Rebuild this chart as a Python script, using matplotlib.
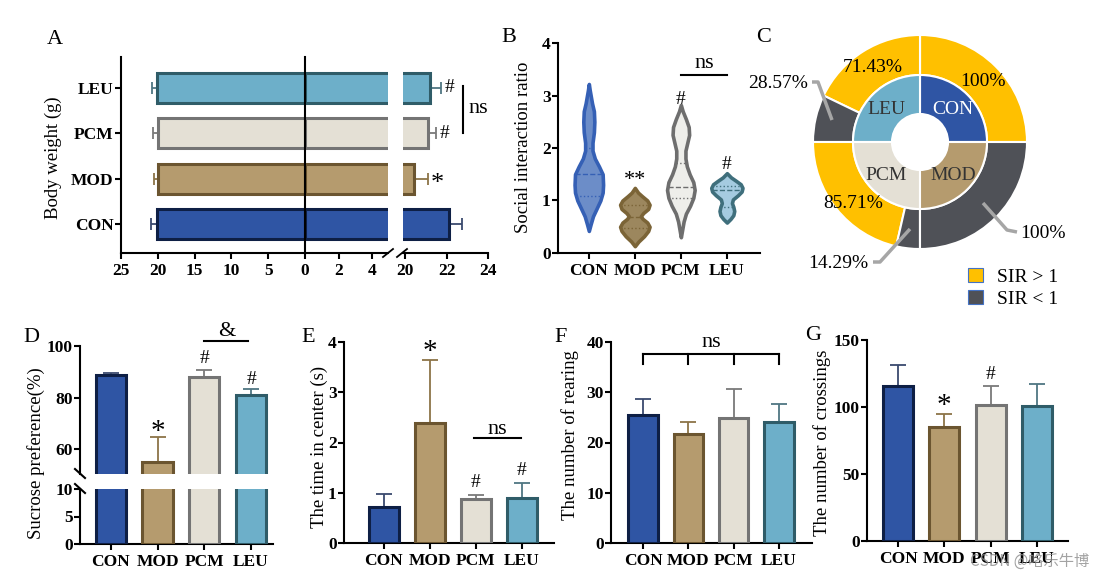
import numpy as np
import matplotlib
matplotlib.use("Agg")
import matplotlib.pyplot as plt
from matplotlib.lines import Line2D
from matplotlib.patches import Patch

plt.rcParams['font.family'] = ['Liberation Serif', 'DejaVu Serif']
plt.rcParams['axes.linewidth'] = 1.5
plt.rcParams['xtick.major.width'] = 1.5
plt.rcParams['ytick.major.width'] = 1.5
plt.rcParams['xtick.major.size'] = 4.5
plt.rcParams['ytick.major.size'] = 4
plt.rcParams['ytick.major.pad'] = 1.2
plt.rcParams['xtick.major.pad'] = 3

# groups and colours
groups = ["CON", "MOD", "PCM", "LEU"]
face = ["#2F55A4", "#B59B6E", "#E4E0D5", "#6DAFC9"]
edge = ["#0E1F45", "#6B5530", "#747474", "#2F5C68"]
errc = ["#3A4A6E", "#8C7448", "#7A7A7A", "#4F7682"]

# A: body weight (left = before, right = after)
weight_before = [20.1, 20.0, 20.0, 20.1]
weight_before_err = [0.85, 0.55, 0.65, 0.7]
weight_after = [22.1, 20.45, 21.1, 21.2]
weight_after_err = [0.65, 0.65, 0.4, 0.55]

# B: social interaction ratio violins (y levels and half widths)
violin_y = [
    [0.42, 0.55, 0.7, 0.85, 1.0, 1.15, 1.3, 1.5, 1.65, 1.8, 1.95, 2.1, 2.3, 2.5, 2.7, 2.85, 3.0, 3.1, 3.22],
    [0.13, 0.22, 0.32, 0.42, 0.5, 0.58, 0.65, 0.7, 0.76, 0.84, 0.92, 1.0, 1.08, 1.15, 1.24],
    [0.3, 0.45, 0.6, 0.75, 0.9, 1.05, 1.2, 1.35, 1.5, 1.65, 1.8, 1.95, 2.1, 2.25, 2.4, 2.55, 2.7, 2.82],
    [0.58, 0.65, 0.72, 0.8, 0.88, 0.95, 1.02, 1.1, 1.17, 1.24, 1.31, 1.38, 1.44, 1.52],
]
violin_w = [
    [0.0, 0.04, 0.09, 0.17, 0.25, 0.30, 0.31, 0.30, 0.22, 0.13, 0.08, 0.08, 0.11, 0.12, 0.11, 0.07, 0.04, 0.02, 0.0],
    [0.0, 0.08, 0.2, 0.29, 0.32, 0.27, 0.17, 0.13, 0.18, 0.29, 0.32, 0.27, 0.16, 0.07, 0.0],
    [0.0, 0.03, 0.06, 0.11, 0.2, 0.27, 0.30, 0.27, 0.19, 0.13, 0.10, 0.10, 0.14, 0.18, 0.17, 0.11, 0.04, 0.0],
    [0.0, 0.08, 0.14, 0.16, 0.14, 0.11, 0.13, 0.24, 0.32, 0.34, 0.30, 0.19, 0.09, 0.0],
]
violin_q = [[1.08, 2.0], [0.48, 0.92], [1.05, 1.72], [0.87, 1.28]]
violin_med = [1.5, 0.68, 1.25, 1.2]
vfill = ["#6C8DC8", "#9C875E", "#EEEEEA", "#A5CBE0"]
vedge = ["#3560B5", "#7B6437", "#6E6E6E", "#3F6F7C"]

# C: SIR proportions (%)
sir_gt = [100, 0, 85.71, 71.43]
sir_lt = [0, 100, 14.29, 28.57]

# D-G
sucrose = [88.7, 55.1, 87.8, 81.0]
sucrose_err = [1.0, 9.7, 2.9, 2.2]
center_time = [0.71, 2.38, 0.87, 0.90]
center_time_err = [0.26, 1.27, 0.09, 0.30]
rearing = [25.4, 21.6, 24.8, 24.0]
rearing_err = [3.2, 2.5, 5.8, 3.6]
crossings = [115.5, 85.0, 101.5, 100.5]
crossings_err = [16.0, 10.0, 14.0, 17.0]

W, H = 1112, 580
fig = plt.figure(figsize=(W / 100, H / 100), dpi=100)


def box(x0, y0, x1, y1):
    return fig.add_axes([x0 / W, 1 - y1 / H, (x1 - x0) / W, (y1 - y0) / H])


def fig_line(xs, ys, **kw):
    fig.add_artist(Line2D([x / W for x in xs], [1 - y / H for y in ys], **kw))


def fig_text(x, y, s, **kw):
    fig.text(x / W, 1 - y / H, s, **kw)


def bold_ticks(ax):
    for lab in ax.get_xticklabels() + ax.get_yticklabels():
        lab.set_fontweight("bold")
        lab.set_fontsize(12.5)


def clean(ax):
    ax.spines["top"].set_visible(False)
    ax.spines["right"].set_visible(False)


def bar_panel(ax, vals, errs, ylim, yticks, xlim):
    x = np.arange(len(groups))
    ax.bar(x, vals, width=0.65, color=face, edgecolor=edge, linewidth=2.2, zorder=3)
    for i in range(len(groups)):
        ax.errorbar(x[i], vals[i], yerr=[[0], [errs[i]]], fmt="none", ecolor=errc[i],
                    elinewidth=1.3, capsize=6, capthick=1.3, zorder=2)
    ax.set_xlim(*xlim)
    ax.set_ylim(*ylim)
    ax.set_yticks(yticks)
    ax.set_xticks(x)
    ax.set_xticklabels(groups)
    clean(ax)
    bold_ticks(ax)


# ---------------- A ----------------
ypos = np.arange(len(groups))
axL = box(121, 57, 305, 253)
axM = box(305, 57, 388, 253)
axR = box(403, 57, 488, 253)
for ax in (axL, axM, axR):
    ax.set_ylim(-0.64, 3.68)
    clean(ax)
axL.barh(ypos, weight_before, height=0.66, color=face, edgecolor=edge, linewidth=2.2, zorder=3)
axM.barh(ypos, weight_after, height=0.66, color=face, edgecolor=edge, linewidth=2.2, zorder=3)
axR.barh(ypos, weight_after, height=0.66, color=face, edgecolor=edge, linewidth=2.2, zorder=3)
for i in range(len(groups)):
    axL.errorbar(weight_before[i], ypos[i], xerr=[[0], [weight_before_err[i]]], fmt="none",
                 ecolor=errc[i], elinewidth=1.3, capsize=4, capthick=1.3, zorder=2)
    axR.errorbar(weight_after[i], ypos[i], xerr=[[0], [weight_after_err[i]]], fmt="none",
                 ecolor=errc[i], elinewidth=1.3, capsize=4, capthick=1.3, zorder=2)
axL.set_xlim(25, 0)
axL.set_xticks([25, 20, 15, 10, 5, 0])
axL.set_yticks(ypos)
axL.set_yticklabels(groups)
axM.set_xlim(0, 4.95)
axM.set_xticks([2, 4])
axM.set_yticks([])
axM.spines["left"].set_visible(False)
axR.set_xlim(19.9, 24)
axR.set_xticks([20, 22, 24])
axR.set_yticks([])
axR.spines["left"].set_visible(False)
for ax in (axL, axM, axR):
    bold_ticks(ax)
axM.axvline(0, color="black", lw=1.5, zorder=5, clip_on=False)
fig_line([383, 393], [257, 249], color="black", lw=1.3)
fig_line([397, 407], [257, 249], color="black", lw=1.3)
marks_A = ["", "*", "#", "#"]
for i in range(len(groups)):
    end = weight_after[i] + weight_after_err[i]
    fs = 19 if marks_A[i] == "*" else 14
    dy = -0.12 if marks_A[i] == "*" else 0
    axR.text(end + 0.15, ypos[i] + dy, marks_A[i], ha="left", va="center", fontsize=fs, clip_on=False)
axR.plot([22.8, 22.8], [2.0, 3.05], color="black", lw=1.5, clip_on=False)
axR.text(23.05, 2.55, "ns", ha="left", va="center", fontsize=16)
fig_text(53, 158, "Body weight (g)", rotation=90, ha="center", va="center", fontsize=13.5)
fig_text(55, 40, "A", ha="center", va="center", fontsize=16)

# ---------------- B ----------------
axB = box(558, 43, 760, 253)
for i in range(len(groups)):
    yy = np.array(violin_y[i])
    ww = np.array(violin_w[i])
    axB.fill_betweenx(yy, i - ww, i + ww, facecolor=vfill[i], edgecolor=vedge[i],
                      linewidth=2.6, joinstyle="round", zorder=3)
    for q in violin_q[i]:
        hw = np.interp(q, yy, ww)
        axB.plot([i - hw, i + hw], [q, q], ls=":", color=vedge[i], lw=1.0, zorder=4)
    hw = np.interp(violin_med[i], yy, ww)
    axB.plot([i - hw, i + hw], [violin_med[i]] * 2, ls="--", color=vedge[i], lw=1.0, zorder=4)
axB.set_xlim(-0.67, 3.72)
axB.set_ylim(0, 4)
axB.set_yticks([0, 1, 2, 3, 4])
axB.set_xticks(ypos)
axB.set_xticklabels(groups)
clean(axB)
bold_ticks(axB)
axB.text(1, 1.38, "**", ha="center", va="center", fontsize=16)
axB.text(2, 2.92, "#", ha="center", va="center", fontsize=14)
axB.text(3, 1.68, "#", ha="center", va="center", fontsize=14)
axB.plot([2, 3], [3.4, 3.4], color="black", lw=1.5)
axB.text(2.5, 3.6, "ns", ha="center", va="center", fontsize=16)
fig_text(523, 147, "Social interaction ratio", rotation=90, ha="center", va="center", fontsize=13.5)
fig_text(509, 38, "B", ha="center", va="center", fontsize=16)

# ---------------- C ----------------
axC = box(805, 27, 1035, 257)
order = [0, 3, 2, 1]  # CON, LEU, PCM, MOD counter-clockwise from 0 deg
yellow, dark = "#FFC000", "#4F5157"
outer_sizes, outer_cols = [], []
for i in order:
    outer_sizes += [sir_gt[i], sir_lt[i]]
    outer_cols += [yellow, dark]
axC.pie(outer_sizes, radius=1.07, startangle=0, counterclock=True, colors=outer_cols,
        wedgeprops=dict(width=0.40, edgecolor="white", linewidth=1.5))
axC.pie([sir_gt[i] + sir_lt[i] for i in order], radius=0.67, startangle=0, counterclock=True,
        colors=[face[i] for i in order], wedgeprops=dict(width=0.39, edgecolor="white", linewidth=1.5))
axC.set_xlim(-1.15, 1.15)
axC.set_ylim(-1.15, 1.15)
axC.set_aspect("equal")
axC.axis("off")
txt = "#333333"
axC.text(0.33, 0.33, "CON", color="white", ha="center", va="center", fontsize=14)
axC.text(-0.34, 0.33, "LEU", color=txt, ha="center", va="center", fontsize=14)
axC.text(-0.34, -0.34, "PCM", color=txt, ha="center", va="center", fontsize=14)
axC.text(0.33, -0.34, "MOD", color=txt, ha="center", va="center", fontsize=14)
axC.text(0.63, 0.60, f"{sir_gt[0]:g}%", ha="center", va="center", fontsize=14)
axC.text(-0.47, 0.74, f"{sir_gt[3]:g}%", ha="center", va="center", fontsize=14)
axC.text(-0.67, -0.61, f"{sir_gt[2]:g}%", ha="center", va="center", fontsize=14)
axC.text(-1.42, 0.59, f"{sir_lt[3]:g}%", ha="center", va="center", fontsize=14)
axC.text(-0.82, -1.21, f"{sir_lt[2]:g}%", ha="center", va="center", fontsize=14)
axC.text(1.23, -0.91, f"{sir_lt[1]:g}%", ha="center", va="center", fontsize=14)
lead = dict(color="#A6A6A6", lw=2.5, clip_on=False, solid_capstyle="butt")
axC.plot([-1.08, -1.02, -0.88], [0.60, 0.60, 0.22], **lead)
axC.plot([-0.47, -0.40, -0.10], [-1.20, -1.20, -0.87], **lead)
axC.plot([0.63, 0.87, 0.97], [-0.61, -0.88, -0.90], **lead)
handles = [Patch(facecolor=yellow, edgecolor="#4472C4", linewidth=0.8, label="SIR > 1"),
           Patch(facecolor=dark, edgecolor="#4472C4", linewidth=0.8, label="SIR < 1")]
fig.legend(handles=handles, loc="upper left", bbox_to_anchor=(950 / W, 1 - 250 / H),
           frameon=False, fontsize=14, handlelength=0.8, handleheight=0.8,
           handletextpad=0.7, labelspacing=0.2)
fig_text(764, 38, "C", ha="center", va="center", fontsize=16)

# ---------------- D ----------------
axDt = box(80, 346, 273, 474)
axDb = box(80, 489, 273, 544)
xg = np.arange(len(groups))
for ax in (axDt, axDb):
    ax.bar(xg, sucrose, width=0.65, color=face, edgecolor=edge, linewidth=2.2, zorder=3)
    ax.set_xlim(-0.66, 3.47)
    clean(ax)
for i in range(len(groups)):
    axDt.errorbar(xg[i], sucrose[i], yerr=[[0], [sucrose_err[i]]], fmt="none", ecolor=errc[i],
                  elinewidth=1.3, capsize=6, capthick=1.3, zorder=2)
axDt.set_ylim(50.3, 100)
axDt.set_yticks([60, 80, 100])
axDt.set_xticks([])
axDt.spines["bottom"].set_visible(False)
axDb.set_ylim(0, 10)
axDb.set_yticks([0, 5, 10])
axDb.set_xticks(xg)
axDb.set_xticklabels(groups)
bold_ticks(axDt)
bold_ticks(axDb)
fig_line([75, 85], [469, 478], color="black", lw=1.5)
fig_line([75, 85], [484, 493], color="black", lw=1.5)
axDt.text(1, 66.5, "*", ha="center", va="center", fontsize=21)
axDt.text(2, 95.2, "#", ha="center", va="center", fontsize=14)
axDt.text(3, 86.8, "#", ha="center", va="center", fontsize=14)
axDt.plot([2, 2.94], [102, 102], color="black", lw=1.5, clip_on=False)
axDt.text(2.47, 105.8, "&", ha="center", va="center", fontsize=16)
fig_text(36, 453, "Sucrose preference(%)", rotation=90, ha="center", va="center", fontsize=13.5)
fig_text(31, 337, "D", ha="center", va="center", fontsize=16)

# ---------------- E ----------------
axE = box(344, 342, 554, 543)
bar_panel(axE, center_time, center_time_err, (0, 4), [0, 1, 2, 3, 4], (-0.87, 3.7))
axE.text(1, 3.8, "*", ha="center", va="center", fontsize=21)
axE.text(2, 1.21, "#", ha="center", va="center", fontsize=14)
axE.text(3, 1.45, "#", ha="center", va="center", fontsize=14)
axE.plot([1.96, 2.98], [2.08, 2.08], color="black", lw=1.5)
axE.text(2.47, 2.25, "ns", ha="center", va="center", fontsize=16)
fig_text(319, 447, "The time in center (s)", rotation=90, ha="center", va="center", fontsize=13.5)
fig_text(308, 337, "E", ha="center", va="center", fontsize=16)

# ---------------- F ----------------
axF = box(611, 342, 812, 543)
bar_panel(axF, rearing, rearing_err, (0, 40), [0, 10, 20, 30, 40], (-0.71, 3.73))
axF.plot([0, 3], [37.7, 37.7], color="black", lw=1.5)
for i in range(len(groups)):
    axF.plot([i, i], [35.7, 37.7], color="black", lw=1.5)
axF.text(1.5, 39.9, "ns", ha="center", va="center", fontsize=16, clip_on=False)
fig_text(570, 435, "The number of rearing", rotation=90, ha="center", va="center", fontsize=13.5)
fig_text(561, 337, "F", ha="center", va="center", fontsize=16)

# ---------------- G ----------------
axG = box(867, 340, 1068, 541)
bar_panel(axG, crossings, crossings_err, (0, 150), [0, 50, 100, 150], (-0.67, 3.67))
axG.text(1, 101, "*", ha="center", va="center", fontsize=21)
axG.text(2, 124, "#", ha="center", va="center", fontsize=14)
fig_text(822, 443, "The number of crossings", rotation=90, ha="center", va="center", fontsize=13.5)
fig_text(813, 335, "G", ha="center", va="center", fontsize=16)

fig_text(1030, 561, "CSDN @咯乐牛博", ha="center", va="center", fontsize=11,
         color="#8C8C8C", alpha=0.8, family=["Noto Sans CJK SC", "DejaVu Sans"])

fig.savefig("out.png", dpi=100)
